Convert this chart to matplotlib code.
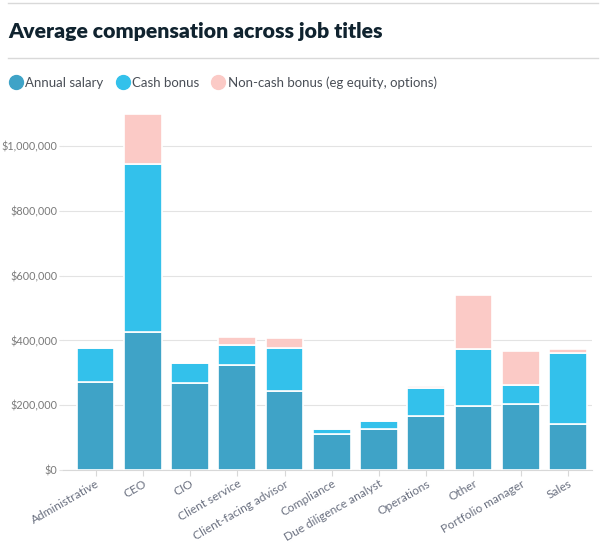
import numpy as np
import matplotlib.pyplot as plt
from matplotlib.ticker import FuncFormatter
from matplotlib.lines import Line2D

plt.rcParams['font.family'] = ['Lato', 'DejaVu Sans']

job_titles = ['Administrative', 'CEO', 'CIO', 'Client service', 'Client-facing advisor',
              'Compliance', 'Due diligence analyst', 'Operations', 'Other',
              'Portfolio manager', 'Sales']
# values (USD)
annual_salary = [271000, 425000, 268000, 324000, 245000, 111000, 126000, 167000, 197000, 204000, 141000]
cash_bonus = [106000, 519000, 62000, 63000, 131000, 16000, 25000, 85000, 175000, 57000, 220000]
noncash_bonus = [0, 157000, 0, 25000, 33000, 0, 0, 6000, 167000, 107000, 14000]

series_names = ['Annual salary', 'Cash bonus', 'Non-cash bonus (eg equity, options)']
colors = ['#3fa3c7', '#33c1eb', '#fbcac6']

fig = plt.figure(figsize=(6.11, 5.56), dpi=100)
ax = fig.add_axes([0.103, 0.155, 0.866, 0.647])

x = np.arange(len(job_titles))
bottom = np.zeros(len(job_titles))
for vals, col in zip([annual_salary, cash_bonus, noncash_bonus], colors):
    vals = np.array(vals)
    ax.bar(x, vals, 0.8, bottom=bottom, color=col, edgecolor='white', linewidth=1.2, zorder=3)
    bottom += vals

ax.set_xlim(-0.69, 10.51)
ax.set_ylim(0, 1112000)
ax.set_yticks([0, 200000, 400000, 600000, 800000, 1000000])
ax.yaxis.set_major_formatter(FuncFormatter(lambda v, p: f"${v:,.0f}"))
ax.grid(axis='y', color='#e3e3e3', linewidth=0.8, zorder=0)
for s in ['top', 'right', 'left']:
    ax.spines[s].set_visible(False)
ax.spines['bottom'].set_color('#d8d8d8')
ax.tick_params(axis='y', length=3, color='#e3e3e3', labelsize=7.8, labelcolor='#7a7a7a', pad=1)
ax.tick_params(axis='x', length=4, color='#d8d8d8', labelsize=8.6, labelcolor='#6a7080', pad=2)
ax.set_xticks(x)
ax.set_xticklabels(job_titles, rotation=30, ha='right', rotation_mode='anchor')

# title and separators
fig.text(0.014, 0.944, 'Average compensation across job titles', fontsize=15.3, fontweight='heavy',
         color='#10232f', va='center')
for yy in [0.994, 0.896]:
    fig.add_artist(Line2D([0.013, 0.979], [yy, yy], color='#d9d9d9', linewidth=1))

# legend
handles = [Line2D([], [], marker='o', linestyle='', markersize=10, markerfacecolor=c,
                  markeredgecolor=c) for c in colors]
fig.legend(handles, series_names, loc='center left', bbox_to_anchor=(-0.004, 0.851), ncol=3,
           frameon=False, fontsize=9.5, handletextpad=0.2, columnspacing=0.95, labelcolor='#4a4f57',
           handlelength=1.0)

fig.savefig('out.png', dpi=100)
